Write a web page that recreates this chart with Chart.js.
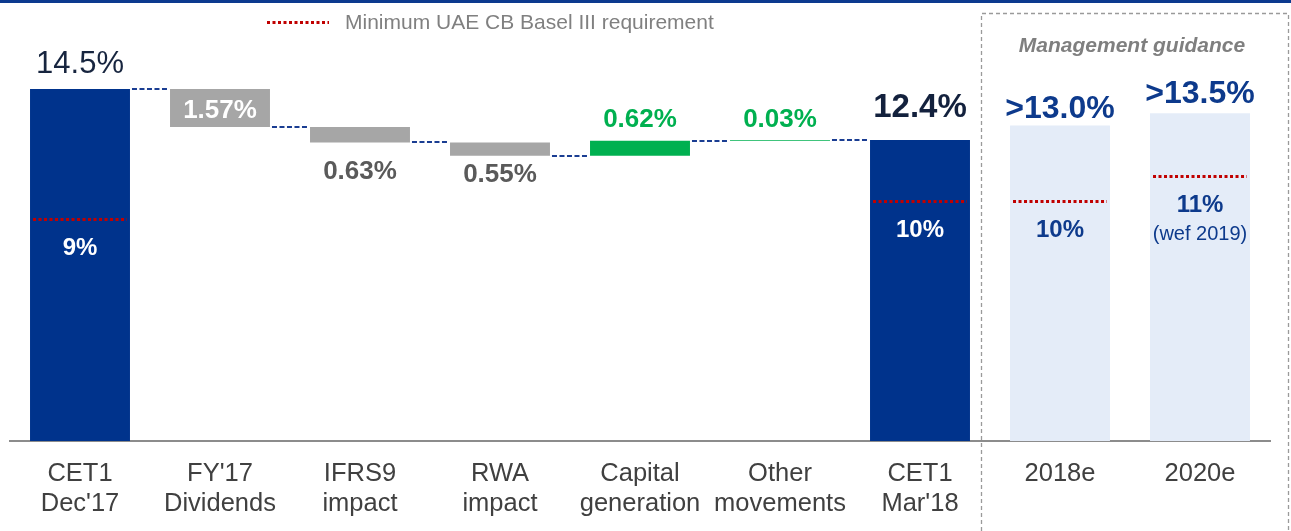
<!DOCTYPE html>
<html><head><meta charset="utf-8">
<script src="https://cdn.jsdelivr.net/npm/chart.js@4.4.1/dist/chart.umd.min.js"></script>
<style>html,body{margin:0;padding:0;background:#fff;}#wrap{position:relative;width:1291px;height:531px;}</style>
</head><body><div id="wrap"><canvas id="c"></canvas></div>
<script>
// ---- data ----
const categories = [["CET1","Dec'17"],["FY'17","Dividends"],["IFRS9","impact"],["RWA","impact"],["Capital","generation"],["Other","movements"],["CET1","Mar'18"],["2018e"],["2020e"]];
const barLow  = [0, 12.93, 12.30, 11.75, 11.75, 12.37, 0, 0, 0];
const barHigh = [14.5, 14.5, 12.93, 12.30, 12.37, 12.40, 12.4, 13.0, 13.5];
const valueLabels = ["14.5%","1.57%","0.63%","0.55%","0.62%","0.03%","12.4%",">13.0%",">13.5%"];
const minRequirement = [9.15, null, null, null, null, null, 9.9, 9.9, 10.9];
const minLabels = ["9%","","","","","","10%","10%","11%"];
const minNotes = ["","","","","","","","","(wef 2019)"];
const connectorLevels = [14.5, 12.93, 12.30, 11.75, 12.37, 12.40];
const legendText = "Minimum UAE CB Basel III requirement";
const guidanceTitle = "Management guidance";

// ---- styles ----
const FONT = '"Liberation Sans", Arial, Helvetica, sans-serif';
const NAVY = '#00338C', GRAY = '#A6A6A6', GREEN = '#00B050', LIGHT = '#E4ECF8', RED = '#C00000';
const barColors = [NAVY, GRAY, GRAY, GRAY, GREEN, GREEN, NAVY, LIGHT, LIGHT];
const labelStyles = [
  {anchor:'top', dy:-16, size:31, weight:'normal', color:'#17253F'},
  {anchor:'mid', dy:10, size:26, weight:'bold', color:'#FFFFFF'},
  {anchor:'bottom', dy:37, size:26, weight:'bold', color:'#5A5A5A'},
  {anchor:'bottom', dy:26, size:26, weight:'bold', color:'#5A5A5A'},
  {anchor:'top', dy:-14, size:26, weight:'bold', color:GREEN},
  {anchor:'top', dy:-13, size:26, weight:'bold', color:GREEN},
  {anchor:'top', dy:-23, size:33, weight:'bold', color:'#13213D'},
  {anchor:'top', dy:-7, size:32, weight:'bold', color:'#0D3A8C'},
  {anchor:'top', dy:-10, size:32, weight:'bold', color:'#0D3A8C'}
];
const minLabelColors = ['#FFFFFF','','','','','','#FFFFFF','#0D3A8C','#0D3A8C'];

const decorPlugin = {
  id: 'decor',
  beforeDraw(chart) {
    const ctx = chart.ctx, x = chart.scales.x;
    ctx.save();
    ctx.fillStyle = '#0C3A8F';
    ctx.fillRect(0, 0, chart.width, 3);
    const bx = Math.round((x.getPixelForValue(6) + x.getPixelForValue(7)) / 2 - 9) + 0.5;
    ctx.strokeStyle = '#9A9A9A';
    ctx.lineWidth = 1.3;
    ctx.setLineDash([4, 3]);
    ctx.beginPath();
    ctx.moveTo(bx, chart.height);
    ctx.lineTo(bx, 13.5);
    ctx.lineTo(chart.width - 2.5, 13.5);
    ctx.lineTo(chart.width - 2.5, chart.height);
    ctx.stroke();
    ctx.restore();
  },
  afterDatasetsDraw(chart) {
    const ctx = chart.ctx, y = chart.scales.y, x = chart.scales.x;
    const meta = chart.getDatasetMeta(0);
    ctx.save();
    // connectors
    ctx.strokeStyle = '#1A3D92';
    ctx.lineWidth = 2;
    ctx.setLineDash([5, 2.5]);
    connectorLevels.forEach((lv, i) => {
      const a = meta.data[i], b = meta.data[i + 1];
      const py = Math.round(y.getPixelForValue(lv));
      ctx.beginPath();
      ctx.moveTo(a.x + a.width / 2 + 2, py);
      ctx.lineTo(b.x - b.width / 2 - 1, py);
      ctx.stroke();
    });
    // minimum requirement dotted lines
    ctx.strokeStyle = RED;
    ctx.lineWidth = 3;
    ctx.setLineDash([3, 2.5]);
    minRequirement.forEach((v, i) => {
      if (v == null) return;
      const el = meta.data[i];
      const py = Math.round(y.getPixelForValue(v)) + 0.5;
      ctx.beginPath();
      ctx.moveTo(el.x - el.width / 2 + 3, py);
      ctx.lineTo(el.x + el.width / 2 - 3, py);
      ctx.stroke();
    });
    ctx.setLineDash([]);
    // value labels
    ctx.textAlign = 'center';
    ctx.textBaseline = 'alphabetic';
    valueLabels.forEach((t, i) => {
      const s = labelStyles[i], el = meta.data[i];
      const top = y.getPixelForValue(barHigh[i]), bot = y.getPixelForValue(barLow[i]);
      const ref = s.anchor === 'top' ? top : s.anchor === 'bottom' ? bot : (top + bot) / 2;
      ctx.font = `${s.weight} ${s.size}px ${FONT}`;
      ctx.fillStyle = s.color;
      ctx.fillText(t, el.x, ref + s.dy);
    });
    // minimum labels
    minRequirement.forEach((v, i) => {
      if (v == null) return;
      const el = meta.data[i];
      const py = y.getPixelForValue(v);
      ctx.font = `bold 24px ${FONT}`;
      ctx.fillStyle = minLabelColors[i];
      ctx.fillText(minLabels[i], el.x, py + 36);
      if (minNotes[i]) {
        ctx.font = `normal 20px ${FONT}`;
        ctx.fillText(minNotes[i], el.x, py + 64);
      }
    });
    // legend
    ctx.strokeStyle = RED;
    ctx.lineWidth = 3;
    ctx.setLineDash([3, 2.5]);
    ctx.beginPath();
    ctx.moveTo(267, 22.5);
    ctx.lineTo(329, 22.5);
    ctx.stroke();
    ctx.setLineDash([]);
    ctx.textAlign = 'left';
    ctx.font = `normal 21px ${FONT}`;
    ctx.fillStyle = '#808080';
    ctx.fillText(legendText, 345, 29);
    // guidance title
    ctx.textAlign = 'center';
    ctx.font = `italic bold 21px ${FONT}`;
    ctx.fillStyle = '#7F7F7F';
    ctx.fillText(guidanceTitle, (x.getPixelForValue(7) + x.getPixelForValue(8)) / 2 + 2, 52);
    ctx.restore();
  }
};

new Chart(document.getElementById('c'), {
  type: 'bar',
  data: {
    labels: categories,
    datasets: [{
      data: barLow.map((lo, i) => [lo, barHigh[i]]),
      backgroundColor: barColors,
      borderWidth: 0,
      barPercentage: 0.714,
      categoryPercentage: 1.0
    }]
  },
  options: {
    responsive: true,
    maintainAspectRatio: false,
    animation: false,
    layout: { padding: { left: 10, right: 21, top: 4, bottom: 0 } },
    plugins: { legend: { display: false }, tooltip: { enabled: false } },
    scales: {
      x: {
        grid: { display: false, drawTicks: false },
        border: { display: true, color: '#8C8C8C', width: 2 },
        ticks: { font: { family: FONT, size: 25.5, lineHeight: 1.18 }, color: '#404040', padding: 18, maxRotation: 0, autoSkip: false },
        afterFit(scale) { scale.height = 90; }
      },
      y: { display: false, min: 0, max: 18 }
    }
  },
  plugins: [decorPlugin]
});
</script></body></html>
